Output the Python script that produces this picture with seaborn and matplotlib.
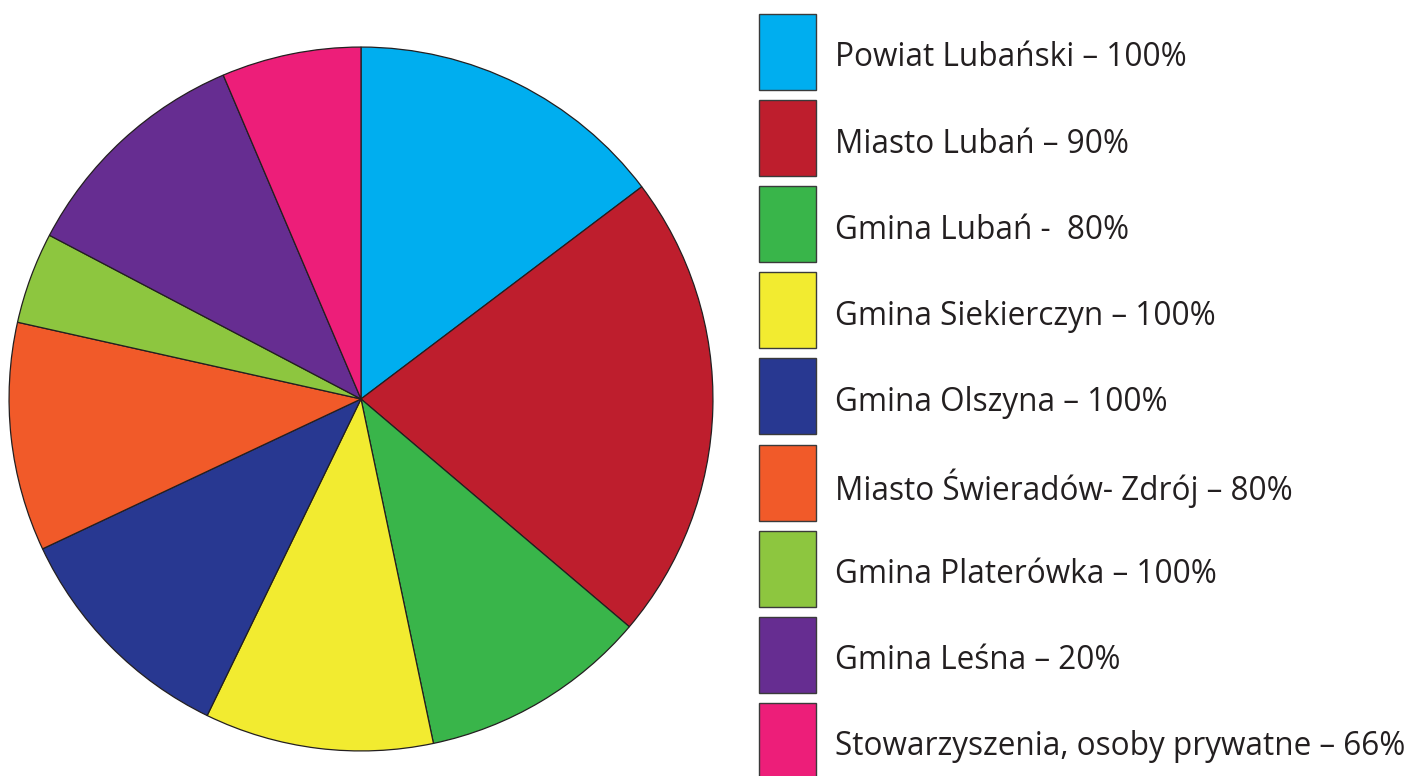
import seaborn as sns
import matplotlib
matplotlib.use("Agg")
from matplotlib import pyplot as plt
from matplotlib.patches import Rectangle

labels = [
    "Powiat Lubański – 100%",
    "Miasto Lubań – 90%",
    "Gmina Lubań -  80%",
    "Gmina Siekierczyn – 100%",
    "Gmina Olszyna – 100%",
    "Miasto Świeradów- Zdrój – 80%",
    "Gmina Platerówka – 100%",
    "Gmina Leśna – 20%",
    "Stowarzyszenia, osoby prywatne – 66%",
]
shares = [14.7, 21.5, 10.5, 10.5, 10.8, 10.5, 4.2, 10.9, 6.4]
colors = ["#00AEEF", "#BE1E2D", "#39B54A", "#F2EB30", "#283891",
          "#F15A29", "#8DC63F", "#662D91", "#ED1E79"]

sns.set_theme(style="white")
plt.rcParams['font.family'] = ['Open Sans', 'DejaVu Sans']

W, H = 1410, 776
fig = plt.figure(figsize=(W / 100, H / 100), dpi=100)

# pie area (pixel box converted to figure fractions)
ax = fig.add_axes([8 / W, (H - 752) / H, 706 / W, 706 / H])
ax.pie(shares, colors=colors, startangle=90, counterclock=False,
       wedgeprops=dict(edgecolor="#231F20", linewidth=0.9))
ax.set_xlim(-1.003, 1.003)
ax.set_ylim(-1.003, 1.003)
ax.set_aspect("equal")
ax.axis("off")

# legend drawn in pixel coordinates
lg = fig.add_axes([0, 0, 1, 1])
lg.set_xlim(0, W)
lg.set_ylim(H, 0)
lg.axis("off")
for i, (lab, col) in enumerate(zip(labels, colors)):
    top = 14 + i * 86.1
    lg.add_patch(Rectangle((759, top), 57, 76, facecolor=col,
                           edgecolor="#3a3a3a", linewidth=1.0))
    lg.text(835, top + 44, lab, fontsize=22.7, color="#231F20",
            va="center", ha="left")

fig.savefig("out.png", dpi=100)
